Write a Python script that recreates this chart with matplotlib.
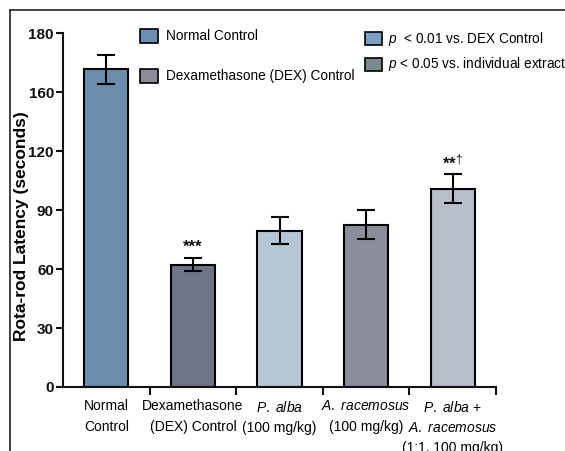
import matplotlib
matplotlib.use("Agg")
import matplotlib.pyplot as plt
from matplotlib.patches import Rectangle
from matplotlib.lines import Line2D

plt.rcParams['font.family'] = ['Liberation Sans', 'DejaVu Sans']
plt.rcParams['mathtext.fontset'] = 'custom'
plt.rcParams['mathtext.rm'] = 'Liberation Sans'
plt.rcParams['mathtext.it'] = 'Liberation Sans:italic'
plt.rcParams['mathtext.bf'] = 'Liberation Sans:bold'

# ---- data ----
groups = [
    "Normal\nControl",
    "Dexamethasone\n(DEX) Control",
    "$\\mathit{P.\\ alba}$\n(100 mg/kg)",
    "$\\mathit{A.\\ racemosus}$\n(100 mg/kg)",
    "$\\mathit{P.\\ alba}$ +\n$\\mathit{A.\\ racemosus}$\n(1:1, 100 mg/kg)",
]
latency = [161.8, 62.2, 79.5, 82.5, 101.0]
latency_err = [7.4, 3.3, 6.8, 7.4, 7.3]
significance = ["", "***", "", "", "**$^{\\dagger}$"]
bar_colors = ["#6d8cae", "#6f7489", "#b6c6d4", "#8b8e9a", "#b7bdcb"]

ytick_values = [0, 30, 60, 90, 120, 150, 180]
ytick_labels = ["0", "30", "60", "90", "120", "160", "180"]

legend_left = ["Normal Control", "Dexamethasone (DEX) Control"]
legend_left_colors = ["#6e8db0", "#8b8c98"]
legend_right = ["$\\mathit{p}$  < 0.01 vs. DEX Control",
                "$\\mathit{p}$ < 0.05 vs. individual extracts"]
legend_right_colors = ["#7e9dc3", "#7b8a8e"]

W, H = 565, 451
fig = plt.figure(figsize=(W / 100, H / 100), dpi=100)
fig.patch.set_facecolor("white")

def fx(px):
    return px / W

def fy(py):
    return 1 - py / H

ax = fig.add_axes([fx(63), fy(387), fx(496) - fx(63), fy(33.3) - fy(387)])

x = list(range(len(groups)))
ax.bar(x, latency, width=0.51, color=bar_colors, edgecolor="black",
       linewidth=1.5, zorder=2)
ax.errorbar(x, latency, yerr=latency_err, fmt="none", ecolor="black",
            elinewidth=1.5, capsize=6.5, capthick=1.5, zorder=3)

for xi, m, e, s in zip(x, latency, latency_err, significance):
    if s:
        ax.text(xi, m + e + 2.0, s, ha="center", va="bottom",
                fontsize=12, fontweight="bold", color="#111111")

ax.set_xlim(-0.5, 4.5)
ax.set_ylim(0, 180)

ax.spines["top"].set_visible(False)
ax.spines["right"].set_visible(False)
for side in ("left", "bottom"):
    ax.spines[side].set_linewidth(1.5)
    ax.spines[side].set_color("#111111")

ax.set_yticks(ytick_values)
ax.set_yticklabels(ytick_labels, fontsize=11, fontweight="bold")
ax.tick_params(axis="y", length=5, width=1.5, pad=1.5, colors="#111111")

ax.set_xticks(x)
ax.set_xticklabels(groups, fontsize=10, linespacing=1.58)
ax.tick_params(axis="x", which="major", length=0, pad=9)
ax.set_xticks([0.5, 1.5, 2.5, 3.5, 4.5], minor=True)
ax.tick_params(axis="x", which="minor", length=6, width=1.5, color="#111111")

fig.text(fx(22), fy(226), "Rota-rod Latency (seconds)", rotation=90,
         ha="center", va="center", fontsize=12.5, fontweight="bold")

# legend, left column
for i, (lab, col) in enumerate(zip(legend_left, legend_left_colors)):
    top = 29 + i * 40
    fig.add_artist(Rectangle((fx(140), fy(top + 14)), fx(18), 14 / H,
                             transform=fig.transFigure, facecolor=col,
                             edgecolor="black", linewidth=1.2))
    fig.text(fx(166), fy(top + 7), lab, ha="left", va="center", fontsize=9.8)

# legend, right column
for i, (lab, col) in enumerate(zip(legend_right, legend_right_colors)):
    top = 32 + i * 25.5
    fig.add_artist(Rectangle((fx(365), fy(top + 13)), fx(17), 13 / H,
                             transform=fig.transFigure, facecolor=col,
                             edgecolor="black", linewidth=1.2))
    fig.text(fx(388), fy(top + 6.5), lab, ha="left", va="center", fontsize=9.8)

# frame lines along top and left edges
fig.add_artist(Line2D([fx(10), 1], [fy(10), fy(10)], color="#222222",
                      linewidth=1.2, transform=fig.transFigure))
fig.add_artist(Line2D([fx(10), fx(10)], [0, fy(10)], color="#222222",
                      linewidth=1.2, transform=fig.transFigure))

fig.savefig("out.png", dpi=100)
